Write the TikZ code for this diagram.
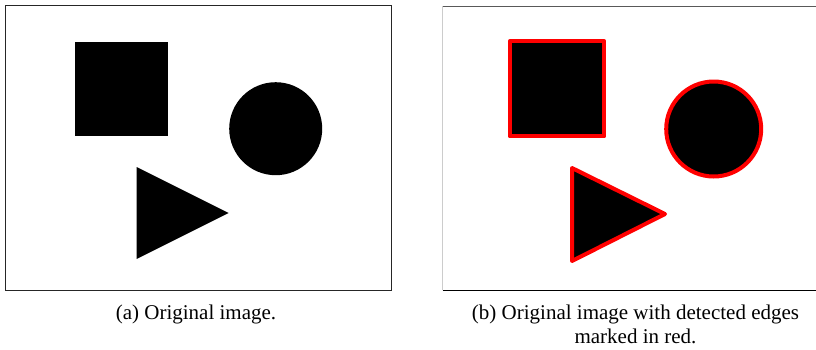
\documentclass[tikz,border=0pt]{standalone}
\usepackage{fontspec}
\setmainfont{Liberation Serif}

\begin{document}
\begin{tikzpicture}[x=1pt, y=-1pt,
    frame/.style={line width=0.9pt, draw=black!85},
    blob/.style={fill=black},
    edge/.style={draw=red, fill=black, line width=4pt, line join=round},
    caption/.style={font=\fontsize{21}{24}\selectfont, align=center, inner sep=0pt}]

    \useasboundingbox (0,0) rectangle (816,349);

    % Panel (a): the input picture
    \coordinate (A1) at (5.3,5.7);
    \coordinate (A2) at (391,290);
    \draw[frame] (A1) rectangle (A2);

    \fill[blob] (74.7,42.3) rectangle (168.3,136);
    \fill[blob] (275.7,128.7) circle (46.5);
    \coordinate (T1) at (136.7,167);
    \coordinate (T2) at (228.7,213);
    \coordinate (T3) at (136.7,259);
    \fill[blob] (T1) -- (T2) -- (T3) -- cycle;

    % Panel (b): same picture, edges in red
    \coordinate (B1) at (442.7,6);
    \coordinate (B2) at (816,6);
    \coordinate (B3) at (816,290.3);
    \coordinate (B4) at (442.7,290.3);
    \draw[line width=0.9pt, draw=black!65] (B1) -- (B2);
    \draw[line width=0.9pt, draw=black] (B4) -- (B3);
    \draw[line width=0.9pt, draw=black!20] (B1) -- (B4);

    \filldraw[edge] (509.7,41.3) rectangle (604.3,136.3);
    \filldraw[edge] (713.7,129) circle (47.5);
    \coordinate (R1) at (572,168);
    \coordinate (R2) at (665,214);
    \coordinate (R3) at (572,261);
    \filldraw[edge] (R1) -- (R2) -- (R3) -- cycle;

    % Captions (base = last line)
    \node[caption, anchor=base] (capA) at (196,319.3) {(a) Original image.};
    \node[caption, anchor=base] (capB) at (635.5,343.3) {(b) Original image with detected edges\\marked in red.};
\end{tikzpicture}
\end{document}
